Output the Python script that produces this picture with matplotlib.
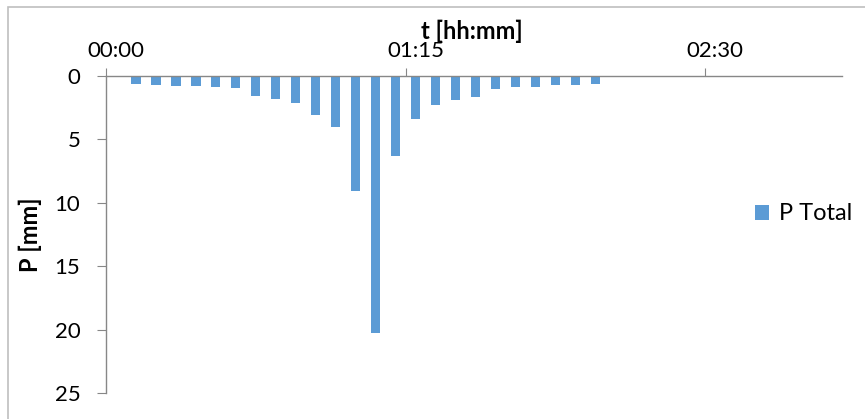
import pandas as pd
import matplotlib.pyplot as plt
from matplotlib.patches import Rectangle
from matplotlib.ticker import FuncFormatter
from matplotlib.transforms import ScaledTranslation

# Rainfall per 5-minute step (bar centres)
times = ['00:07:30', '00:12:30', '00:17:30', '00:22:30', '00:27:30', '00:32:30',
         '00:37:30', '00:42:30', '00:47:30', '00:52:30', '00:57:30', '01:02:30',
         '01:07:30', '01:12:30', '01:17:30', '01:22:30', '01:27:30', '01:32:30',
         '01:37:30', '01:42:30', '01:47:30', '01:52:30', '01:57:30', '02:02:30']
p_total = [0.63, 0.71, 0.76, 0.79, 0.84, 0.94, 1.55, 1.78, 2.10, 3.04, 4.06, 9.09,
           20.3, 6.29, 3.41, 2.28, 1.86, 1.62, 1.02, 0.89, 0.84, 0.73, 0.68, 0.63]
x_ticks = ['00:00', '01:15', '02:30']

minutes = pd.to_timedelta(times).total_seconds() / 60
tick_minutes = pd.to_timedelta([t + ':00' for t in x_ticks]).total_seconds() / 60

plt.rcParams['font.family'] = ['Lato', 'DejaVu Sans']

W, H = 865, 419
fig = plt.figure(figsize=(W / 100, H / 100), dpi=100)
ax = fig.add_axes([106 / W, 1 - 393 / H, (842 - 106) / W, (393 - 76) / H])

ax.bar(minutes, p_total, width=2.33, color='#5B9BD5', label='P Total')

ax.set_xlim(0, 184.3)
ax.set_ylim(25, 0)
ax.set_xticks(tick_minutes)
ax.xaxis.set_major_formatter(FuncFormatter(lambda v, pos: '%02d:%02d' % (v // 60, v % 60)))
ax.set_yticks([0, 5, 10, 15, 20, 25])

ax.xaxis.tick_top()
ax.xaxis.set_label_position('top')
for s in ['bottom', 'right']:
    ax.spines[s].set_visible(False)
for s in ['top', 'left']:
    ax.spines[s].set_color('#878787')
    ax.spines[s].set_linewidth(1.0)

ax.tick_params(axis='x', direction='out', length=6, color='#878787', labelsize=16, pad=5)
ax.tick_params(axis='y', direction='out', length=6.5, color='#878787', labelsize=16, pad=12)

# Excel puts the time labels a bit right of their ticks
shift = ScaledTranslation(10 / 100, 0, fig.dpi_scale_trans)
for lbl in ax.get_xticklabels():
    lbl.set_transform(lbl.get_transform() + shift)

ax.set_xlabel('t [hh:mm]', fontsize=17, fontweight='bold')
ax.xaxis.set_label_coords(0.497, 1 + 37 / 317)
ax.set_ylabel('P [mm]', fontsize=17, fontweight='bold')
ax.yaxis.set_label_coords((42 - 106) / 736, 0.5)

ax.legend(loc='center left', bbox_to_anchor=(755 / W, 1 - 214 / H),
          bbox_transform=fig.transFigure, frameon=False, fontsize=17,
          borderpad=0, borderaxespad=0,
          handlelength=0.6, handleheight=0.6, handletextpad=0.42)

# chart-area border (left and top edges visible)
fig.patches.append(Rectangle((8 / W, -0.2), 1.5, 1.2 - 7 / H, transform=fig.transFigure,
                             fill=False, edgecolor='#BFBFBF', linewidth=1.2, clip_on=False))

fig.savefig('out.png', dpi=100)
